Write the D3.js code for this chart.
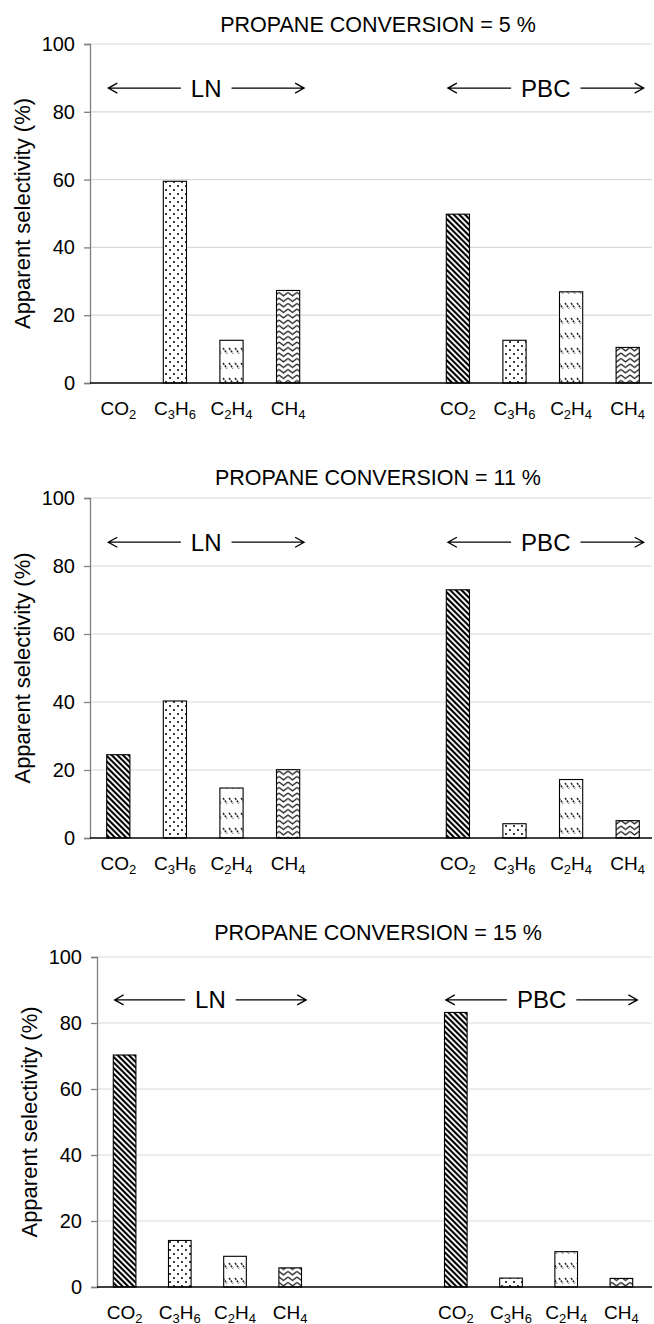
<!DOCTYPE html>
<html>
<head>
<meta charset="utf-8">
<script src="https://cdn.jsdelivr.net/npm/d3@7"></script>
<style>
  body { margin: 0; background: #fff; }
  svg { display: block; }
  text { font-family: "Liberation Sans", Arial, sans-serif; fill: #000; }
</style>
</head>
<body>
<script>
var width = 654
var height = 1324

// data
var categories = ['CO2', 'C3H6', 'C2H4', 'CH4']
var groups = ['LN', 'PBC']
var conversions = [5, 11, 15]
var lnValues = [
  [0, 59.5, 12.6, 27.3],
  [24.5, 40.3, 14.7, 20.1],
  [70.3, 14.1, 9.3, 5.8]
]
var pbcValues = [
  [49.8, 12.6, 26.9, 10.5],
  [73.0, 4.2, 17.2, 5.1],
  [83.2, 2.7, 10.7, 2.6]
]
var yTicks = [0, 20, 40, 60, 80, 100]
var arrowLevel = 87

// panel layout (pixel boxes)
var panels = [
  { top: 44, bottom: 383, left: 90, right: 656, titleY: 32 },
  { top: 498, bottom: 838, left: 90, right: 656, titleY: 485 },
  { top: 957, bottom: 1287, left: 97, right: 649, titleY: 940 }
]

var svg = d3.select('body').append('svg').attr('width', width).attr('height', height)
var defs = svg.append('defs')

// hatch patterns, one per product
var pCO2 = defs.append('pattern').attr('id', 'p-CO2').attr('patternUnits', 'userSpaceOnUse')
  .attr('width', 4).attr('height', 4).attr('patternTransform', 'rotate(-45)')
pCO2.append('rect').attr('width', 4).attr('height', 4).attr('fill', '#fff')
pCO2.append('rect').attr('width', 2.1).attr('height', 4).attr('fill', '#000')

var pC3 = defs.append('pattern').attr('id', 'p-C3H6').attr('patternUnits', 'userSpaceOnUse')
  .attr('width', 8).attr('height', 8)
pC3.append('rect').attr('width', 8).attr('height', 8).attr('fill', '#fff')
pC3.append('circle').attr('cx', 2).attr('cy', 2).attr('r', 1).attr('fill', '#000')
pC3.append('circle').attr('cx', 6).attr('cy', 6).attr('r', 1).attr('fill', '#000')

var pC2 = defs.append('pattern').attr('id', 'p-C2H4').attr('patternUnits', 'userSpaceOnUse')
  .attr('width', 6).attr('height', 15)
pC2.append('rect').attr('width', 6).attr('height', 15).attr('fill', '#fff')
pC2.append('line').attr('x1', 1).attr('y1', 3).attr('x2', 5).attr('y2', 8.5)
  .attr('stroke', '#222').attr('stroke-width', 1.4).attr('stroke-dasharray', '2.2,0.9')

var pCH4 = defs.append('pattern').attr('id', 'p-CH4').attr('patternUnits', 'userSpaceOnUse')
  .attr('width', 9).attr('height', 5.5)
pCH4.append('rect').attr('width', 9).attr('height', 5.5).attr('fill', '#fff')
pCH4.append('path').attr('d', 'M0,1 L4.5,4.5 L9,1')
  .attr('fill', 'none').attr('stroke', '#222').attr('stroke-width', 1.3)

var slots = []
groups.forEach((grp, gi) => {
  categories.forEach(c => slots.push(grp + '|' + c))
  if (gi === 0) slots.push('gap1', 'gap2')
})

function subLabel(sel, name) {
  // split chemical formula into letters and subscript digits
  var parts = name.match(/[A-Z]+|\d+/g)
  parts.forEach((p, k) => {
    if (/\d/.test(p)) {
      sel.append('tspan').attr('font-size', 13).attr('dy', 4).text(p)
    } else {
      var t = sel.append('tspan').text(p)
      if (k > 0) t.attr('dy', -4)
    }
  })
}

panels.forEach((pn, i) => {
  var data = []
  groups.forEach((grp, gi) => {
    var vals = gi === 0 ? lnValues[i] : pbcValues[i]
    categories.forEach((c, ci) => data.push({ key: grp + '|' + c, cat: c, value: vals[ci] }))
  })

  var x = d3.scaleBand().domain(slots).range([pn.left, pn.right]).paddingInner(0.59).paddingOuter(0.295)
  var y = d3.scaleLinear().domain([0, 100]).range([pn.bottom, pn.top])
  var g = svg.append('g')

  // gridlines
  g.append('g').selectAll('line').data(yTicks.filter(d => d > 0)).enter().append('line')
    .attr('x1', pn.left).attr('x2', 652).attr('y1', d => y(d)).attr('y2', d => y(d))
    .attr('stroke', '#d9d9d9').attr('stroke-width', 1.2)

  // y axis
  var yAxis = d3.axisLeft(y).tickValues(yTicks).tickSize(6).tickPadding(9)
  var ya = g.append('g').attr('transform', `translate(${pn.left},0)`).call(yAxis)
  ya.select('.domain').attr('stroke', '#7f7f7f').attr('stroke-width', 1.3)
  ya.selectAll('.tick line').attr('stroke', '#7f7f7f').attr('stroke-width', 1.3)
  ya.selectAll('.tick text').attr('font-size', 20).attr('font-family', '"Liberation Sans", Arial, sans-serif')

  // bars
  g.append('g').selectAll('rect').data(data.filter(d => d.value > 0)).enter().append('rect')
    .attr('x', d => x(d.key)).attr('width', x.bandwidth())
    .attr('y', d => y(d.value)).attr('height', d => y(0) - y(d.value))
    .attr('fill', d => `url(#p-${d.cat})`).attr('stroke', '#000').attr('stroke-width', 1.1)

  // x axis line
  g.append('line').attr('x1', pn.left).attr('x2', 652).attr('y1', y(0)).attr('y2', y(0))
    .attr('stroke', '#000').attr('stroke-width', 1.5)

  // category labels
  g.append('g').selectAll('text').data(data).enter().append('text')
    .attr('x', d => x(d.key) + x.bandwidth() / 2).attr('y', y(0) + 31.5)
    .attr('text-anchor', 'middle').attr('font-size', 19)
    .each(function (d) { subLabel(d3.select(this), d.cat) })

  // group arrows
  groups.forEach(grp => {
    var x0 = x(grp + '|' + categories[0]) + x.bandwidth() / 2 - 10
    var x1 = x(grp + '|' + categories[categories.length - 1]) + x.bandwidth() / 2 + 16
    var ay = y(arrowLevel)
    var t = g.append('text').attr('x', (x0 + x1) / 2).attr('y', ay + 8.5)
      .attr('text-anchor', 'middle').attr('font-size', 24).text(grp)
    var tw = t.node().getComputedTextLength()
    var gap = tw / 2 + 10
    var mid = (x0 + x1) / 2
    g.append('path').attr('d', `M${x0},${ay}H${mid - gap}M${x0 + 9},${ay - 5}L${x0},${ay}L${x0 + 9},${ay + 5}`)
      .attr('fill', 'none').attr('stroke', '#000').attr('stroke-width', 1.3)
    g.append('path').attr('d', `M${mid + gap},${ay}H${x1}M${x1 - 9},${ay - 5}L${x1},${ay}L${x1 - 9},${ay + 5}`)
      .attr('fill', 'none').attr('stroke', '#000').attr('stroke-width', 1.3)
  })

  // title
  svg.append('text').attr('x', 378).attr('y', pn.titleY).attr('text-anchor', 'middle')
    .attr('font-size', 21.5).text(`PROPANE CONVERSION = ${conversions[i]} %`)

  // y label
  svg.append('text').attr('transform', `translate(${pn.left - 60},${(pn.top + pn.bottom) / 2}) rotate(-90)`)
    .attr('text-anchor', 'middle').attr('font-size', 22).text('Apparent selectivity (%)')
})
</script>
</body>
</html>
